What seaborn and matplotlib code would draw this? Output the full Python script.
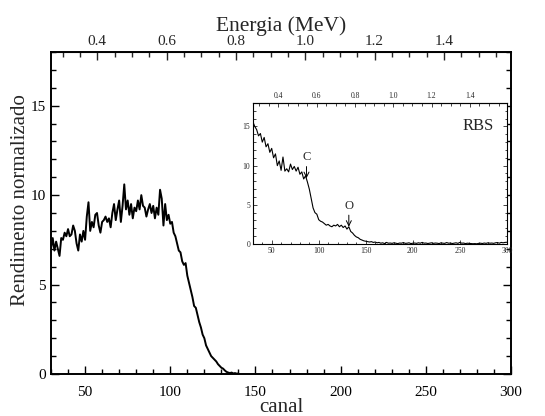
import numpy as np
import pandas as pd
import matplotlib
matplotlib.use("Agg")
import matplotlib.pyplot as plt
from matplotlib.ticker import MultipleLocator
import seaborn as sns

# ---------------- data ----------------
main_channels = list(range(30, 141))
main_yield = [
    7.0, 7.6, 6.9, 7.4, 7.0, 6.6, 7.6, 7.5, 7.9, 7.7,
    8.1, 7.7, 7.8, 8.3, 8.0, 7.3, 6.9, 7.8, 7.4, 8.0,
    7.5, 8.8, 9.6, 8.0, 8.5, 8.2, 8.9, 9.0, 8.3, 7.9,
    8.5, 8.6, 8.8, 8.5, 8.7, 8.2, 9.0, 9.5, 8.6, 9.2,
    9.7, 8.5, 9.4, 10.6, 9.2, 9.7, 8.9, 9.5, 8.7, 9.3,
    9.1, 9.7, 9.2, 10.0, 9.4, 9.3, 8.8, 9.2, 9.5, 9.0,
    9.4, 8.7, 9.3, 8.9, 10.3, 9.8, 8.3, 9.5, 8.6, 8.9,
    8.4, 8.5, 7.9, 7.7, 7.3, 6.9, 6.8, 6.3, 6.1, 6.2,
    5.5, 5.1, 4.7, 4.3, 3.8, 3.7, 3.3, 2.9, 2.6, 2.2,
    2.0, 1.6, 1.4, 1.2, 1.0, 0.9, 0.8, 0.7, 0.55, 0.45,
    0.35, 0.3, 0.2, 0.12, 0.08, 0.05, 0.08, 0.03, 0.05, 0.02,
    0.03,
]

inset_channels = list(range(30, 301, 2))
inset_yield = [
    15.6, 15.0, 14.6, 13.8, 14.1, 13.0, 13.6, 12.4, 12.8, 11.7,
    12.2, 11.0, 11.5, 10.0, 10.6, 9.4, 11.1, 9.3, 9.6, 9.2,
    10.2, 9.5, 9.9, 9.3, 9.8, 8.9, 9.2, 8.3, 8.7, 7.9,
    7.0, 5.8, 4.6, 4.0, 3.8, 3.1, 2.9, 2.8, 2.6, 2.4,
    2.5, 2.3, 2.2, 2.4, 2.3, 2.5, 2.2, 2.4, 2.1, 2.3,
    1.9, 2.2, 1.6, 1.4, 1.1, 0.9, 0.8, 0.6, 0.5, 0.4,
    0.35, 0.3, 0.25, 0.3, 0.2, 0.25, 0.15,
    0.2, 0.1, 0.15, 0.05, 0.2, 0.1, 0.12, 0.08, 0.15, 0.1,
    0.05, 0.12, 0.1, 0.18, 0.08, 0.1, 0.15, 0.05, 0.1, 0.12,
    0.08, 0.15, 0.1, 0.2, 0.1, 0.12, 0.06, 0.1, 0.15, 0.08,
    0.12, 0.1, 0.05, 0.15, 0.1, 0.08, 0.18, 0.1, 0.12, 0.06,
    0.1, 0.15, 0.08, 0.2, 0.1, 0.12, 0.05, 0.1, 0.08, 0.06,
    0.03, 0.05, 0.02, 0.08, 0.1, 0.06, 0.12, 0.08, 0.15, 0.1,
    0.12, 0.08, 0.15, 0.18, 0.1, 0.2, 0.15, 0.2, 0.22,
]

energy_ticks = [0.4, 0.6, 0.8, 1.0, 1.2, 1.4]
markers = ["C", "O"]
marker_channels = [87, 132]
marker_tips = [8.4, 2.2]

# calibration: channel -> energy (MeV)
E0, dE = 0.1194, 0.004914
def ch2e(c):
    return E0 + dE * np.asarray(c)
def e2ch(e):
    return (np.asarray(e) - E0) / dE

main_df = pd.DataFrame({"canal": main_channels, "y": main_yield})
inset_df = pd.DataFrame({"canal": inset_channels, "y": inset_yield})

# ---------------- style ----------------
sns.set_style("ticks")
plt.rcParams["font.family"] = ["Liberation Serif", "DejaVu Serif"]
plt.rcParams["mathtext.fontset"] = "stix"

fig = plt.figure(figsize=(5.45, 4.16), dpi=100)
ax = fig.add_axes([0.0936, 0.101, 0.844, 0.774])

sns.lineplot(data=main_df, x="canal", y="y", ax=ax, color="black", lw=1.4)
ax.set_xlim(30, 300)
ax.set_ylim(0, 18)
ax.xaxis.set_major_locator(MultipleLocator(50))
ax.xaxis.set_minor_locator(MultipleLocator(10))
ax.yaxis.set_major_locator(MultipleLocator(5))
ax.yaxis.set_minor_locator(MultipleLocator(1))
ax.tick_params(which="both", direction="in", right=True, top=False,
               width=1.0, labelsize=11, colors="black")
ax.tick_params(which="major", length=6)
ax.tick_params(which="minor", length=3.5)
ax.tick_params(axis="x", pad=9)
for s in ax.spines.values():
    s.set_linewidth(1.4)
    s.set_color("black")
ax.set_xlabel("canal", fontsize=15, labelpad=-1)
ax.set_ylabel("Rendimento normalizado", fontsize=15)
ax.yaxis.set_label_coords(-0.045, 0.54)

sec = ax.secondary_xaxis("top", functions=(ch2e, e2ch))
sec.set_xticks(energy_ticks)
sec.xaxis.set_minor_locator(MultipleLocator(0.05))
sec.tick_params(which="both", direction="in", width=1.0, labelsize=11)
sec.tick_params(which="major", length=6, pad=3)
sec.tick_params(which="minor", length=3.5)
sec.set_xticklabels([f"{t:.1f}" for t in energy_ticks])
sec.set_xlabel("Energia (MeV)", fontsize=15.5, labelpad=3)

# ---------------- inset ----------------
ins = fig.add_axes([0.464, 0.4135, 0.466, 0.339])
sns.lineplot(data=inset_df, x="canal", y="y", ax=ins, color="black", lw=0.8)
ins.set_xlim(30, 300)
ins.set_ylim(0, 18)
ins.set_xlabel("")
ins.set_ylabel("")
ins.xaxis.set_major_locator(MultipleLocator(50))
ins.xaxis.set_minor_locator(MultipleLocator(10))
ins.yaxis.set_major_locator(MultipleLocator(5))
ins.yaxis.set_minor_locator(MultipleLocator(1))
ins.tick_params(which="both", direction="in", right=True, width=0.6,
                labelsize=5.5, pad=2)
ins.tick_params(which="major", length=3)
ins.tick_params(which="minor", length=1.8)
for s in ins.spines.values():
    s.set_linewidth(0.8)
    s.set_color("black")

isec = ins.secondary_xaxis("top", functions=(ch2e, e2ch))
isec.set_xticks(energy_ticks)
isec.set_xticklabels([f"{t:.1f}" for t in energy_ticks])
isec.xaxis.set_minor_locator(MultipleLocator(0.05))
isec.tick_params(which="both", direction="in", width=0.6, labelsize=5.5, pad=2)
isec.tick_params(which="major", length=3)
isec.tick_params(which="minor", length=1.8)

ins.text(0.95, 0.84, "RBS", transform=ins.transAxes, ha="right", va="center",
         fontsize=12)
for lab, cx, tip in zip(markers, marker_channels, marker_tips):
    ins.annotate(lab, xy=(cx, tip), xytext=(cx, tip + 1.9),
                 ha="center", va="bottom", fontsize=9,
                 arrowprops=dict(arrowstyle="->", color="black", lw=0.7,
                                 shrinkA=0, shrinkB=0))

fig.savefig("out.png", dpi=100)
